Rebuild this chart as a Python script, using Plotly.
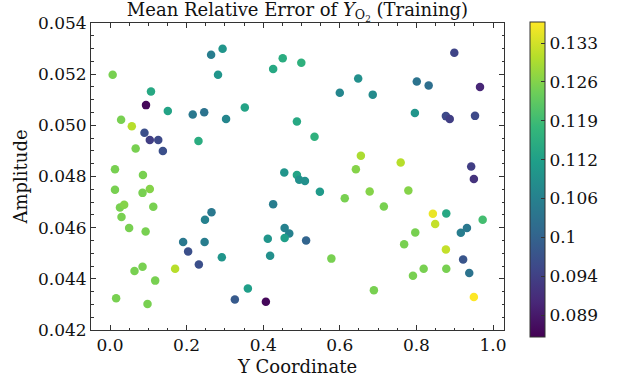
import plotly.graph_objects as go

y_coord = [0.007, 0.107, 0.094, 0.151, 0.216, 0.246, 0.264, 0.294, 0.282, 0.303,
           0.231, 0.352, 0.426, 0.451, 0.4995, 0.488, 0.455, 0.488, 0.029, 0.057,
           0.090, 0.104, 0.126, 0.138, 0.067, 0.013, 0.086, 0.899, 0.648, 0.600,
           0.686, 0.801, 0.832, 0.966, 0.796, 0.877, 0.887, 0.953, 0.534, 0.655,
           0.642, 0.759, 0.943, 0.013, 0.085, 0.104, 0.026, 0.037, 0.113, 0.030,
           0.050, 0.093, 0.064, 0.085, 0.118, 0.016, 0.098, 0.170, 0.191, 0.204,
           0.232, 0.247, 0.248, 0.265, 0.292, 0.326, 0.360, 0.407, 0.426, 0.494,
           0.509, 0.456, 0.468, 0.456, 0.412, 0.418, 0.512, 0.548, 0.613, 0.678,
           0.779, 0.715, 0.843, 0.878, 0.849, 0.973, 0.797, 0.768, 0.916, 0.932,
           0.578, 0.877, 0.922, 0.819, 0.878, 0.791, 0.938, 0.689, 0.950, 0.950]

amplitude = [0.05198, 0.05132, 0.05079, 0.05056, 0.05042, 0.05051, 0.05276, 0.05299, 0.05198, 0.05025,
             0.04939, 0.05070, 0.05220, 0.05262, 0.05245, 0.05015, 0.04816, 0.04806, 0.05022, 0.04996,
             0.04971, 0.04943, 0.04943, 0.04900, 0.04909, 0.04828, 0.04806, 0.05284, 0.05183, 0.05127,
             0.05120, 0.05171, 0.05156, 0.05150, 0.05048, 0.05036, 0.05025, 0.05037, 0.04955, 0.04881,
             0.04828, 0.04855, 0.04839, 0.04748, 0.04736, 0.04751, 0.04679, 0.04690, 0.04682, 0.04642,
             0.04599, 0.04585, 0.04431, 0.04447, 0.04393, 0.04324, 0.04302, 0.04439, 0.04544, 0.04507,
             0.04456, 0.04544, 0.04631, 0.04660, 0.04484, 0.04319, 0.04362, 0.04310, 0.04692, 0.04787,
             0.04782, 0.04599, 0.04577, 0.04560, 0.04557, 0.04490, 0.04550, 0.04740, 0.04715, 0.04741,
             0.04745, 0.04683, 0.04654, 0.04655, 0.04614, 0.04631, 0.04581, 0.04535, 0.04580, 0.04599,
             0.04479, 0.04515, 0.04476, 0.04439, 0.04439, 0.04412, 0.04423, 0.04355, 0.04329, 0.04790]

rel_error = [0.126, 0.116, 0.0865, 0.115, 0.106, 0.105, 0.107, 0.112, 0.112, 0.109,
             0.117, 0.115, 0.116, 0.117, 0.118, 0.116, 0.112, 0.115, 0.126, 0.131,
             0.098, 0.095, 0.097, 0.098, 0.126, 0.126, 0.126, 0.096, 0.111, 0.109,
             0.110, 0.105, 0.104, 0.091, 0.112, 0.097, 0.095, 0.097, 0.118, 0.130,
             0.127, 0.131, 0.095, 0.126, 0.126, 0.127, 0.126, 0.127, 0.126, 0.126,
             0.126, 0.126, 0.126, 0.126, 0.126, 0.126, 0.126, 0.131, 0.106, 0.098,
             0.098, 0.107, 0.108, 0.106, 0.112, 0.100, 0.114, 0.0865, 0.107, 0.111,
             0.111, 0.108, 0.108, 0.114, 0.112, 0.111, 0.102, 0.113, 0.126, 0.127,
             0.127, 0.126, 0.135, 0.116, 0.132, 0.121, 0.126, 0.126, 0.107, 0.106,
             0.126, 0.132, 0.099, 0.126, 0.126, 0.126, 0.105, 0.126, 0.1365, 0.093]

cbar_tickvals = [0.08906, 0.09535, 0.10164, 0.10794, 0.11423, 0.12052, 0.12682, 0.13311]
cbar_ticktext = ["0.089", "0.094", "0.1", "0.106", "0.112", "0.119", "0.126", "0.133"]

FONT = "DejaVu Serif"
TICK_SIZE = 17
LABEL_SIZE = 18

fig = go.Figure(go.Scatter(
    x=y_coord, y=amplitude, mode="markers",
    marker=dict(
        size=8.5, color=rel_error, colorscale="Viridis", cmin=0.0855, cmax=0.1365,
        line=dict(width=0),
        colorbar=dict(
            tickvals=cbar_tickvals, ticktext=cbar_ticktext,
            thickness=15, len=315, lenmode="pixels",
            x=1.063, xanchor="left", y=1.003, yanchor="top",
            xpad=0, ypad=0,
            ticks="inside", ticklen=4, tickcolor="#333",
            outlinewidth=1, outlinecolor="#333",
            tickfont=dict(family=FONT, size=TICK_SIZE, color="#111"),
        ),
    ),
))

axis_common = dict(
    showgrid=False, zeroline=False, showline=True, linecolor="#333", linewidth=1,
    mirror="allticks", ticks="inside", ticklen=5, tickcolor="#333",
    tickfont=dict(family=FONT, size=TICK_SIZE, color="#111"),
)

fig.update_xaxes(
    range=[-0.0496, 1.0287], tickvals=[0, 0.2, 0.4, 0.6, 0.8, 1.0], tickformat=".1f",
    minor=dict(ticks="inside", dtick=0.05, ticklen=2.5, tickcolor="#333"),
    title=dict(text="Y Coordinate", font=dict(family=FONT, size=LABEL_SIZE, color="#111"), standoff=5),
    **axis_common,
)
fig.update_yaxes(
    range=[0.042, 0.054], dtick=0.002, tickformat=".3f",
    minor=dict(ticks="inside", dtick=0.0005, ticklen=2.5, tickcolor="#333"),
    title=dict(text="Amplitude", font=dict(family=FONT, size=LABEL_SIZE, color="#111"), standoff=5),
    **axis_common,
)

fig.update_layout(
    width=617, height=385,
    margin=dict(l=91, r=113, t=23, b=48),
    paper_bgcolor="white", plot_bgcolor="white",
    showlegend=False,
    title=dict(text="Mean Relative Error of <i>Y</i><sub>O<sub>2</sub></sub> (Training)",
               font=dict(family=FONT, size=LABEL_SIZE, color="#111"),
               x=(91 + 504) / 2 / 617, xanchor="center", y=0.992, yanchor="top"),
)

fig.write_html("out.html")
